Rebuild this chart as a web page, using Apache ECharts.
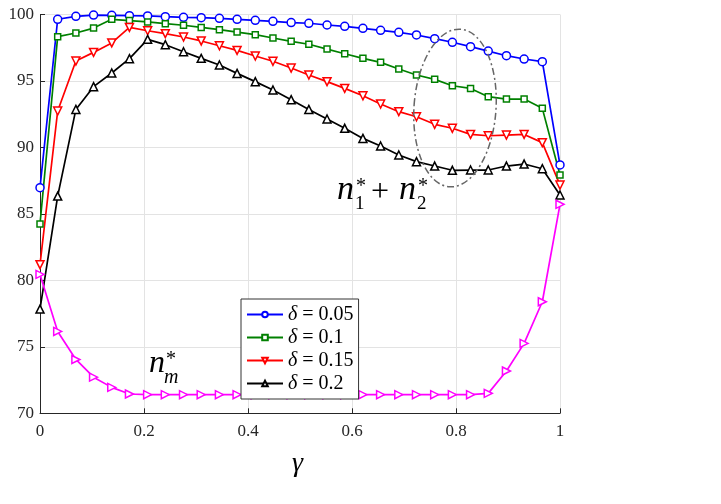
<!DOCTYPE html>
<html>
<head>
<meta charset="utf-8">
<script src="https://cdn.jsdelivr.net/npm/echarts@6/dist/echarts.min.js"></script>
<style>
  html, body { margin: 0; padding: 0; background: #fff; }
  #chart { width: 721px; height: 504px; }
</style>
</head>
<body>
<div id="chart"></div>
<script>
// gamma values (x axis)
const gammaList = [0, 0.034, 0.069, 0.103, 0.138, 0.172, 0.207, 0.241, 0.276, 0.310,
  0.345, 0.379, 0.414, 0.448, 0.483, 0.517, 0.552, 0.586, 0.621, 0.655,
  0.690, 0.724, 0.759, 0.793, 0.828, 0.862, 0.897, 0.931, 0.966, 1]

// n1* + n2* for each delta
const delta005 = [86.97, 99.64, 99.86, 99.96, 99.94, 99.91, 99.89, 99.84, 99.79, 99.76,
  99.71, 99.64, 99.56, 99.49, 99.39, 99.34, 99.21, 99.11, 98.96, 98.81,
  98.66, 98.46, 98.18, 97.91, 97.58, 97.25, 96.90, 96.65, 96.45, 88.68]
const delta01 = [84.24, 98.33, 98.61, 98.98, 99.64, 99.54, 99.44, 99.31, 99.19, 99.03,
  98.86, 98.68, 98.48, 98.23, 97.98, 97.76, 97.40, 97.05, 96.70, 96.40,
  95.90, 95.45, 95.12, 94.64, 94.44, 93.82, 93.64, 93.64, 92.94, 87.92]
const delta015 = [81.18, 92.74, 96.50, 97.15, 97.86, 99.03, 98.78, 98.56, 98.31, 98.01,
  97.65, 97.30, 96.88, 96.48, 95.97, 95.45, 94.95, 94.44, 93.89, 93.27,
  92.69, 92.31, 91.74, 91.44, 90.98, 90.88, 90.93, 90.98, 90.36, 87.17]
const delta02 = [77.84, 86.34, 92.86, 94.57, 95.60, 96.68, 98.13, 97.73, 97.20, 96.70,
  96.20, 95.57, 94.95, 94.32, 93.59, 92.86, 92.14, 91.44, 90.68, 90.11,
  89.43, 88.93, 88.60, 88.28, 88.30, 88.30, 88.60, 88.75, 88.40, 86.42]
// n_m*
const nmList = [80.45, 76.16, 74.05, 72.72, 71.95, 71.45, 71.40, 71.40, 71.40, 71.40,
  71.40, 71.40, 71.40, 71.40, 71.40, 71.40, 71.40, 71.40, 71.40, 71.40,
  71.40, 71.40, 71.40, 71.40, 71.40, 71.50, 73.18, 75.26, 78.39, 85.72]

const legendNames = ['δ = 0.05', 'δ = 0.1', 'δ = 0.15', 'δ = 0.2']

const serif = 'Liberation Serif'
const axisColor = '#262626'

function pairs(ys) {
  return ys.map((y, i) => [gammaList[i], y])
}

function makeSeries(name, ys, color, symbol, size, rotate) {
  return {
    name: name,
    type: 'line',
    data: pairs(ys),
    symbol: symbol,
    symbolSize: size,
    symbolRotate: rotate || 0,
    showAllSymbol: true,
    lineStyle: { color: color, width: 1.7, type: 'solid' },
    itemStyle: { color: '#fff', borderColor: color, borderWidth: 1.5 },
    emphasis: { disabled: true },
    animation: false,
    z: 3
  }
}

function txt(x, y, text, font) {
  return { type: 'text', x: x, y: y, z: 6, style: { text: text, font: font, fill: '#000', textVerticalAlign: 'bottom' } }
}

const chart = echarts.init(document.getElementById('chart'))
chart.setOption({
  animation: false,
  grid: { left: 40, right: 161, top: 14.5, bottom: 90.7 },
  xAxis: {
    type: 'value',
    min: 0,
    max: 1,
    interval: 0.2,
    axisLine: { show: true, lineStyle: { color: axisColor, width: 1 } },
    axisTick: { show: true, inside: true, length: 5, lineStyle: { color: axisColor } },
    axisLabel: {
      color: axisColor,
      fontFamily: serif,
      fontSize: 17,
      margin: 10,
      formatter: v => String(+v.toFixed(1))
    },
    splitLine: { show: true, lineStyle: { color: '#e3e3e3', width: 1 } }
  },
  yAxis: {
    type: 'value',
    min: 70,
    max: 100,
    interval: 5,
    axisLine: { show: true, lineStyle: { color: axisColor, width: 1 } },
    axisTick: { show: true, inside: true, length: 5, lineStyle: { color: axisColor } },
    axisLabel: { color: axisColor, fontFamily: serif, fontSize: 17, margin: 6 },
    splitLine: { show: true, lineStyle: { color: '#e3e3e3', width: 1 } }
  },
  legend: {
    data: legendNames,
    orient: 'vertical',
    left: 241,
    top: 299,
    padding: [5, 5, 5, 5],
    itemWidth: 36,
    itemHeight: 7,
    itemGap: 2,
    backgroundColor: '#fff',
    borderColor: '#333',
    borderWidth: 1,
    borderRadius: 0,
    selectedMode: false,
    textStyle: {
      fontFamily: serif,
      fontSize: 20,
      color: '#000',
      lineHeight: 21,
      rich: {
        i: { fontFamily: serif, fontSize: 20, fontStyle: 'italic', color: '#000', lineHeight: 21 },
        t: { fontFamily: serif, fontSize: 20, color: '#000', lineHeight: 21 }
      }
    },
    formatter: name => '{i|δ}{t|' + name.slice(1) + '}',
    z: 10
  },
  series: [
    makeSeries(legendNames[0], delta005, '#0000ff', 'circle', 8),
    makeSeries(legendNames[1], delta01, '#008000', 'rect', 6),
    makeSeries(legendNames[2], delta015, '#ff0000', 'triangle', 8, 180),
    makeSeries(legendNames[3], delta02, '#000000', 'triangle', 8),
    makeSeries('nm', nmList, '#ff00ff', 'triangle', 8, -90)
  ],
  graphic: [
    {
      type: 'ellipse',
      shape: { cx: 0, cy: 0, rx: 41, ry: 79 },
      x: 455, y: 108,
      rotation: -0.07,
      style: { fill: 'none', stroke: '#666', lineWidth: 1.5, lineDash: [7, 3, 2, 3] },
      z: 5
    },
    // n1* + n2*
    txt(337, 207, 'n', 'italic 34px ' + serif),
    txt(356, 197, '*', '20px ' + serif),
    txt(355, 214, '1', '19px ' + serif),
    txt(371, 209, '+', '32px ' + serif),
    txt(399, 207, 'n', 'italic 34px ' + serif),
    txt(418, 197, '*', '20px ' + serif),
    txt(417, 214, '2', '19px ' + serif),
    // n_m*
    txt(149, 380, 'n', 'italic 32px ' + serif),
    txt(166, 370, '*', '20px ' + serif),
    txt(164, 388, 'm', 'italic 20px ' + serif),
    // gamma axis title
    txt(292, 478, 'γ', 'italic 28px ' + serif)
  ]
})
</script>
</body>
</html>
